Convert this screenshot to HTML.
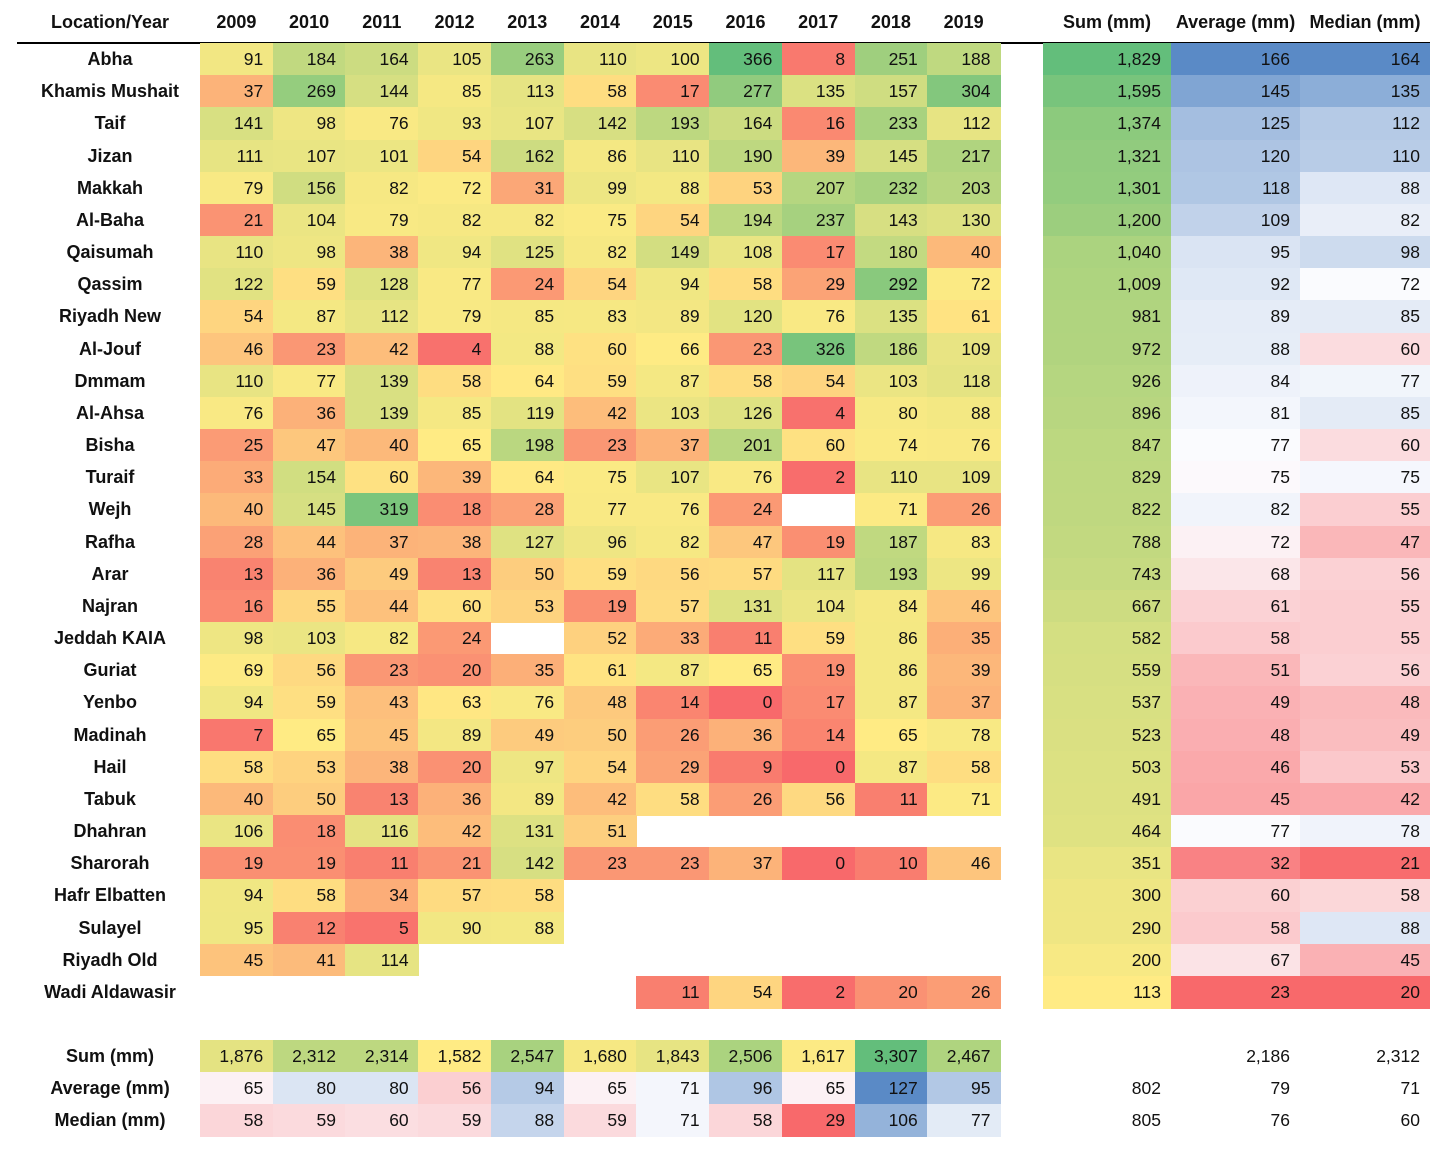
<!DOCTYPE html>
<html><head><meta charset="utf-8">
<style>
body{margin:0;width:1456px;height:1153px;background:#fff;position:relative;overflow:hidden;font-family:"Liberation Sans",sans-serif;}
.c{position:absolute;box-sizing:border-box;font-size:17.5px;color:#111;line-height:32px;}
.n{text-align:right;padding-right:10px;}
.h{font-weight:bold;text-align:center;font-size:18px;}
.l{font-weight:bold;text-align:center;font-size:18px;}
</style></head>
<body>
<div id="rule" style="position:absolute;left:17px;top:42px;width:1413px;height:2px;background:#000"></div>
<script>
const years=["2009","2010","2011","2012","2013","2014","2015","2016","2017","2018","2019"];
const locations=["Abha","Khamis Mushait","Taif","Jizan","Makkah","Al-Baha","Qaisumah","Qassim","Riyadh New","Al-Jouf","Dmmam","Al-Ahsa","Bisha","Turaif","Wejh","Rafha","Arar","Najran","Jeddah KAIA","Guriat","Yenbo","Madinah","Hail","Tabuk","Dhahran","Sharorah","Hafr Elbatten","Sulayel","Riyadh Old","Wadi Aldawasir"];
const values=[
[91,184,164,105,263,110,100,366,8,251,188],
[37,269,144,85,113,58,17,277,135,157,304],
[141,98,76,93,107,142,193,164,16,233,112],
[111,107,101,54,162,86,110,190,39,145,217],
[79,156,82,72,31,99,88,53,207,232,203],
[21,104,79,82,82,75,54,194,237,143,130],
[110,98,38,94,125,82,149,108,17,180,40],
[122,59,128,77,24,54,94,58,29,292,72],
[54,87,112,79,85,83,89,120,76,135,61],
[46,23,42,4,88,60,66,23,326,186,109],
[110,77,139,58,64,59,87,58,54,103,118],
[76,36,139,85,119,42,103,126,4,80,88],
[25,47,40,65,198,23,37,201,60,74,76],
[33,154,60,39,64,75,107,76,2,110,109],
[40,145,319,18,28,77,76,24,null,71,26],
[28,44,37,38,127,96,82,47,19,187,83],
[13,36,49,13,50,59,56,57,117,193,99],
[16,55,44,60,53,19,57,131,104,84,46],
[98,103,82,24,null,52,33,11,59,86,35],
[69,56,23,20,35,61,87,65,19,86,39],
[94,59,43,63,76,48,14,0,17,87,37],
[7,65,45,89,49,50,26,36,14,65,78],
[58,53,38,20,97,54,29,9,0,87,58],
[40,50,13,36,89,42,58,26,56,11,71],
[106,18,116,42,131,51,null,null,null,null,null],
[19,19,11,21,142,23,23,37,0,10,46],
[94,58,34,57,58,null,null,null,null,null,null],
[95,12,5,90,88,null,null,null,null,null,null],
[45,41,114,null,null,null,null,null,null,null,null],
[null,null,null,null,null,null,11,54,2,20,26]];
const rowSum=[1829,1595,1374,1321,1301,1200,1040,1009,981,972,926,896,847,829,822,788,743,667,582,559,537,523,503,491,464,351,300,290,200,113];
const rowAvg=[166,145,125,120,118,109,95,92,89,88,84,81,77,75,82,72,68,61,58,51,49,48,46,45,77,32,60,58,67,23];
const rowMed=[164,135,112,110,88,82,98,72,85,60,77,85,60,75,55,47,56,55,55,56,48,49,53,42,78,21,58,88,45,20];
const colSum=[1876,2312,2314,1582,2547,1680,1843,2506,1617,3307,2467];
const colAvg=[65,80,80,56,94,65,71,96,65,127,95];
const colMed=[58,59,60,59,88,59,71,58,29,106,77];
const summaryCorner=[["","2,186","2,312"],["802","79","71"],["805","76","60"]];

const RED=[248,105,107],YEL=[255,235,132],GRN=[99,190,123],WHT=[252,252,255],BLU=[90,138,198];
function mix(a,b,t){t=Math.max(0,Math.min(1,t));return `rgb(${a.map((v,i)=>Math.round(v+(b[i]-v)*t)).join(',')})`;}
function pct(arr){const s=arr.filter(v=>v!=null).sort((a,b)=>a-b);const m=s.length;return m%2?s[(m-1)/2]:(s[m/2-1]+s[m/2])/2;}
function mean(arr){const f=arr.filter(v=>v!=null);return f.reduce((a,b)=>a+b,0)/f.length;}
function scale3(arr,lo,mid,hi,useMean){const f=arr.filter(v=>v!=null);const mn=Math.min(...f),mx=Math.max(...f),md=useMean?mean(f):pct(f);
 return v=>v<=md?mix(lo,mid,(v-mn)/(md-mn||1)):mix(mid,hi,(v-md)/(mx-md||1));}
function scale2(arr,a,b){const mn=Math.min(...arr),mx=Math.max(...arr);return v=>mix(a,b,(v-mn)/(mx-mn));}
const fmt=v=>v.toLocaleString('en-US');

const X0=200,CW=72.73,Y0=43,RH=32.17;
const xAgg=[1043,1171,1300],wAgg=[128,129,130];
function cell(x,y,w,h,txt,bg,cls,name){const d=document.createElement('div');d.className='c '+cls;
 d.style.left=x+'px';d.style.top=y+'px';d.style.width=w+'px';d.style.height=h+'px';d.style.lineHeight=h+'px';
 if(bg)d.style.background=bg;d.textContent=txt;
 
 
 document.body.appendChild(d);}

cell(0,4,220,36,"Location/Year",null,'h','header-location');
years.forEach((y,i)=>cell(X0+i*CW,4,CW,36,y,null,'h','header-'+y));
["Sum (mm)","Average (mm)","Median (mm)"].forEach((t,i)=>cell(xAgg[i],4,wAgg[i],36,t,null,'h','header-'+t.split(' ')[0].toLowerCase()));

const cYear=scale3(values.flat(),RED,YEL,GRN);
const cSum=scale2(rowSum,YEL,GRN);
const cAvg=scale3(rowAvg,RED,WHT,BLU);
const cMed=scale3(rowMed,RED,WHT,BLU,true);
locations.forEach((loc,r)=>{const y=Y0+r*RH;
 cell(0,y,220,RH,loc,null,'l','row-label');
 values[r].forEach((v,i)=>{if(v!=null)cell(X0+i*CW,y,CW+0.5,RH+0.5,fmt(v),cYear(v),'n','cell-'+years[i]);});
 cell(xAgg[0],y,wAgg[0],RH+0.5,fmt(rowSum[r]),cSum(rowSum[r]),'n','row-sum');
 cell(xAgg[1],y,wAgg[1],RH+0.5,fmt(rowAvg[r]),cAvg(rowAvg[r]),'n','row-average');
 cell(xAgg[2],y,wAgg[2],RH+0.5,fmt(rowMed[r]),cMed(rowMed[r]),'n','row-median');
});
const YB=1040;
const cAM=scale3(colAvg.concat(colMed),RED,WHT,BLU);
const bottom=[["Sum (mm)",colSum,scale2(colSum,YEL,GRN)],["Average (mm)",colAvg,cAM],["Median (mm)",colMed,cAM]];
bottom.forEach(([lab,arr,sc],r)=>{const y=YB+r*RH;
 cell(0,y,220,RH,lab,null,'l','summary-label');
 arr.forEach((v,i)=>cell(X0+i*CW,y,CW+0.5,RH+0.5,fmt(v),sc(v),'n','summary-'+years[i]));
 summaryCorner[r].forEach((t,i)=>cell(xAgg[i],y,wAgg[i],RH,t,null,'n','summary-total'));
});
</script>
</body></html>
